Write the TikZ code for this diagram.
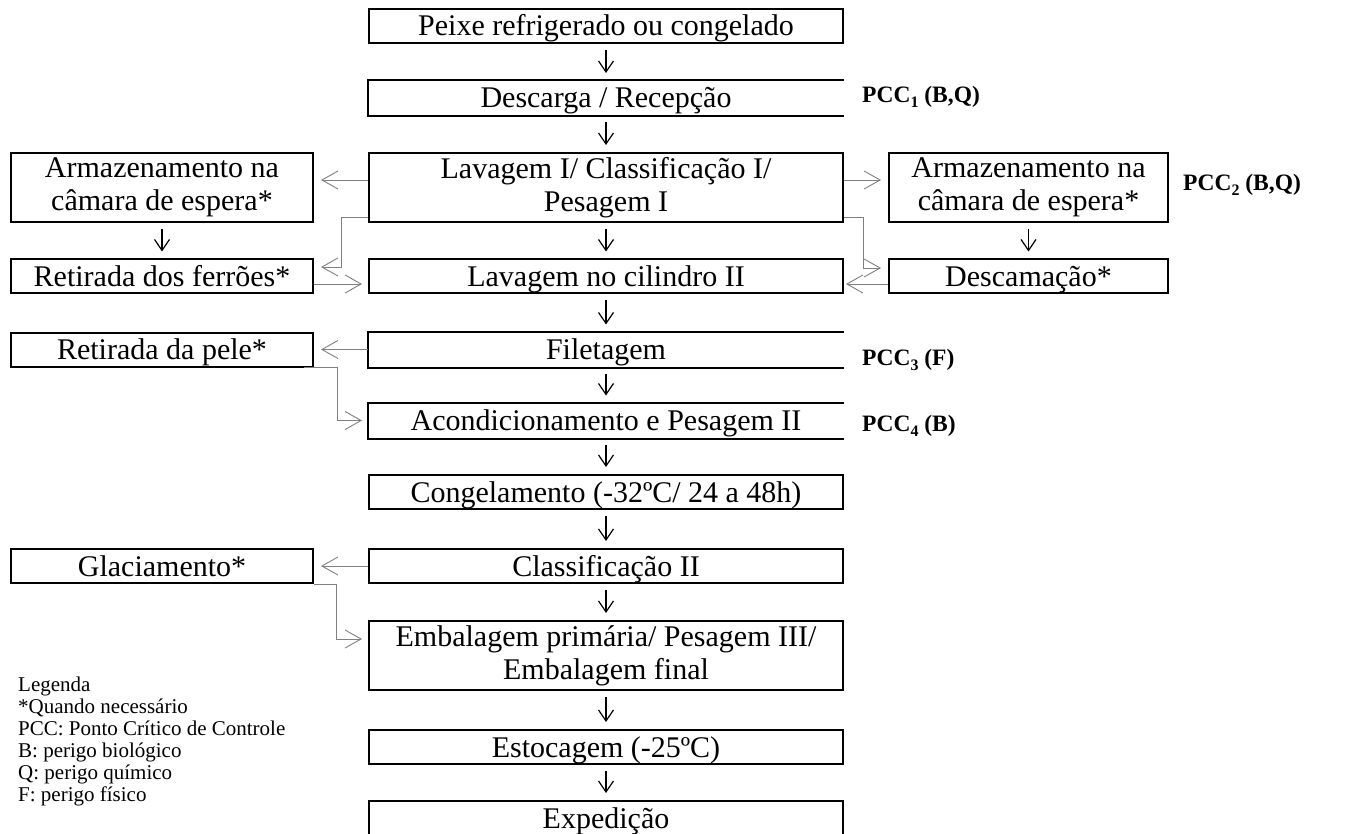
\documentclass[tikz,border=0pt]{standalone}
\usepackage{fontspec}
\setmainfont{Liberation Serif}
\usetikzlibrary{arrows.meta}
\newcommand\bxfont{\fontsize{30}{33}\selectfont}
\newcommand\pcclabel[2]{PCC\raisebox{-0.22em}{\fontsize{16}{16}\selectfont #1}\ #2}
\begin{document}
\begin{tikzpicture}[x=1pt,y=-1pt,
  boxbase/.style={draw, line width=2pt, font=\bxfont, inner xsep=2pt},
  sbox/.style={boxbase, text height=25pt, text depth=5pt, inner ysep=2pt},
  dbox/.style={boxbase, align=center, minimum height=69pt, inner ysep=0pt},
  cw/.style={minimum width=474pt},
  lw/.style={minimum width=302pt},
  rw/.style={minimum width=279pt},
  openbox/.style={draw=none},
  down/.style={line width=1.2pt, -{Straight Barb[length=11pt,width=15pt]}, shorten <=6pt, shorten >=7pt},
  side/.style={draw=gray, line width=0.9pt, -{Straight Barb[length=16pt,width=18pt]}},
  pcc/.style={anchor=west, font=\bfseries\fontsize{23.5}{26}\selectfont, inner sep=0pt},
  legend/.style={anchor=base west, font=\fontsize{21}{22}\selectfont, inner sep=0pt}
]
\useasboundingbox (0,0) rectangle (1349,834);

% centre column
\node[sbox,cw] (n1) at (606,26) {Peixe refrigerado ou congelado};
\node[sbox,cw,openbox] (n2) at (606,98) {Descarga / Recepção};
\node[dbox,cw] (n3) at (606,187.5) {Lavagem I/ Classificação I/\\Pesagem I};
\node[sbox,cw] (n4) at (606,276.5) {Lavagem no cilindro II};
\node[sbox,cw,openbox] (n5) at (606,349.5) {Filetagem};
\node[sbox,cw,openbox] (n6) at (606,420.5) {Acondicionamento e Pesagem II};
\node[sbox,cw] (n7) at (606,492) {Congelamento (-32ºC/ 24 a 48h)};
\node[sbox,cw] (n8) at (606,566) {Classificação II};
\node[dbox,cw] (n9) at (606,655.5) {Embalagem primária/ Pesagem III/\\Embalagem final};
\node[sbox,cw] (n10) at (606,747) {Estocagem (-25ºC)};
\node[sbox,cw,minimum height=34pt] (n11) at (606,818) {Expedição};

\foreach \n in {n2,n5,n6}
  \draw[line width=2pt] (\n.north east) -- (\n.north west) -- (\n.south west) -- (\n.south east);

% left column
\node[dbox,lw] (L1) at (162,187.5) {Armazenamento na\\câmara de espera*};
\node[sbox,lw] (L2) at (162,276.5) {Retirada dos ferrões*};
\node[sbox,lw] (L3) at (162,349.5) {Retirada da pele*};
\node[sbox,lw] (L4) at (162,566) {Glaciamento*};

% right column
\node[dbox,rw] (R1) at (1028.5,187.5) {Armazenamento na\\câmara de espera*};
\node[sbox,rw] (R2) at (1028.5,276.5) {Descamação*};

% PCC labels
\node[pcc] (p1) at (862,97) {\pcclabel{1}{(B,Q)}};
\node[pcc] (p2) at (1183,185) {\pcclabel{2}{(B,Q)}};
\node[pcc] (p3) at (862,360) {\pcclabel{3}{(F)}};
\node[pcc] (p4) at (862,426) {\pcclabel{4}{(B)}};

% down arrows
\foreach \a/\b in {n1/n2,n2/n3,n3/n4,n4/n5,n5/n6,n6/n7,n7/n8,n8/n9,n9/n10,n10/n11,L1/L2,R1/R2}
  \draw[down] (\a.south) -- (\b.north);

% side connectors
\draw[side, shorten >=7pt] ([yshift=7.5pt]n3.west) -- ([yshift=7.5pt]L1.east);
\draw[side, shorten >=7pt] ([yshift=-29.5pt]n3.west) -- ++(-27,0) |- ([yshift=9.5pt]L2.east);
\draw[side, shorten >=6pt] ([yshift=-7.5pt]L2.east) -- ([yshift=-7.5pt]n4.west);
\draw[side, shorten >=7pt] ([yshift=7.5pt]n3.east) -- ([yshift=7.5pt]R1.west);
\draw[side, shorten >=7pt] ([yshift=-29.5pt]n3.east) -- ++(19,0) |- ([yshift=8.5pt]R2.west);
\draw[side, shorten >=2pt] ([yshift=-7.5pt]R2.west) -- ([yshift=-7.5pt]n4.east);
\draw[side, shorten >=7pt] (n5.west) -- (L3.east);
\draw[side, shorten >=6pt] ([xshift=-10pt]L3.south east) -- ++(33,0) |- (n6.west);
\draw[side, shorten >=7pt] (n8.west) -- (L4.east);
\draw[side, shorten >=6pt] (L4.south east) -- ++(22,0) |- ([yshift=16.5pt]n9.west);

% legend
\foreach \t [count=\i from 0] in {Legenda,*Quando necessário,PCC: Ponto Crítico de Controle,B: perigo biológico,Q: perigo químico,F: perigo físico}
  \node[legend] (leg\i) at (18,691+22*\i) {\t};
\end{tikzpicture}
\end{document}
